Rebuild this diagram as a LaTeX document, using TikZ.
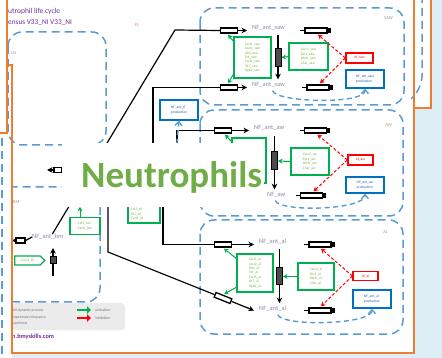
\documentclass[tikz,border=0pt]{standalone}
\usepackage{fontspec}
\setmainfont{Carlito}
\usetikzlibrary{arrows.meta,calc,shapes.symbols}
\definecolor{pageorange}{HTML}{ED7D31}
\definecolor{skyback}{HTML}{DDEEF6}
\definecolor{zoneblue}{HTML}{5B9BD5}
\definecolor{actgreen}{HTML}{00B050}
\definecolor{gtext}{HTML}{7CAF45}
\definecolor{inhred}{HTML}{FF0000}
\definecolor{infoblue}{HTML}{0070C0}
\definecolor{titlepurple}{HTML}{7030A0}
\definecolor{bigGreen}{HTML}{70AD47}
\definecolor{nfgray}{HTML}{8E89AE}
\definecolor{taggray}{HTML}{A09890}
\definecolor{florange}{HTML}{E08050}
\definecolor{legendgray}{HTML}{EBEBEB}
\begin{document}
\begin{tikzpicture}[x=1pt,y=-1pt,
  zone/.style={draw=zoneblue,line width=1.5pt,dash pattern=on 8pt off 5pt,rounded corners=14pt},
  edgeline/.style={draw=pageorange,line width=1.6pt},
  wire/.style={draw=black,line width=1.2pt},
  flow/.style={wire,-{Stealth[length=5.5pt,width=5.5pt]}},
  tport/.style={draw=black,fill=white,line width=1.3pt,minimum width=17pt,minimum height=5pt,inner sep=0pt},
  vport/.style={draw=black,fill=black!70,line width=1pt,minimum width=6pt,minimum height=18pt,inner sep=0pt},
  nf/.style={anchor=west,inner sep=0pt,text=nfgray,font=\fontsize{6.5}{7}\selectfont},
  boxtext/.style={font=\fontsize{3.6}{4.4}\selectfont,align=left,inner sep=1.5pt},
  gbox/.style={boxtext,draw=actgreen,line width=1.3pt,fill=white,text=gtext},
  rbox/.style={boxtext,draw=inhred,line width=1.3pt,fill=white,text=inhred},
  bbox/.style={boxtext,draw=infoblue,line width=1.3pt,fill=white,text=infoblue!70!titlepurple},
  act/.style={draw=actgreen,line width=1pt,-{Stealth[length=4.5pt,width=5pt]}},
  inh/.style={draw=inhred,line width=1pt,dash pattern=on 3pt off 2pt,-{Stealth[length=4.5pt,width=5pt]}},
  link/.style={draw=zoneblue,line width=1.4pt,dash pattern=on 5pt off 3.5pt,-{Straight Barb[length=4pt,width=7pt]}},
  zonetag/.style={font=\fontsize{4.5}{5}\selectfont,text=taggray,inner sep=0pt},
  legtext/.style={anchor=west,inner sep=0pt,text=black!55,font=\fontsize{3.8}{4.4}\selectfont},
]
\useasboundingbox (0,0) rectangle (442,358);

% sheets
\fill[skyback] (0,0) rectangle (442,358);
\fill[white] (0,0) -- (431,0) -- (431,108) -- (414,108) -- (414,353) -- (12,353) -- (12,358) -- (0,358) -- cycle;
\draw[zone] (422,-5) -- (422,90) -- (412,98);
\draw[zone] (2,138) -- (2,362);

% title
\node[anchor=west,inner sep=0pt,text=titlepurple,font=\fontsize{7.5}{8}\selectfont] (ttl1) at (8,12) {utrophil life cycle};
\node[anchor=west,inner sep=0pt,text=titlepurple,font=\fontsize{7.3}{8}\selectfont] (ttl2) at (8,23) {ensus V33\_NI V33\_NI};

% tissue zones
\draw[zone] (8,32) rectangle (106,145);
\begin{scope}
  \clip (12,0) rectangle (442,358);
  \draw[zone] (-10,187) rectangle (100,302);
\end{scope}
\draw[zone] (200,8) rectangle (404,105);
\draw[zone] (200,110) rectangle (403,216);
\draw[zone] (200,220) rectangle (403,334);

\node[zonetag,text=florange] (tagfl) at (137,25) {FL};
\node[zonetag,anchor=west] (tagln) at (11,53) {LN};
\node[zonetag,anchor=west] (tagbm) at (13,202) {BM};
\node[zonetag,anchor=east] (tagsaw) at (393,18) {SAW};
\node[zonetag,anchor=east] (tagaw) at (392,125) {AW};
\node[zonetag,anchor=east] (tagal) at (388,232) {AL};

% ---------- SAW ----------
\node[tport] (ta1) at (229,30.5) {};
\node[tport] (tb1) at (229,87.5) {};
\node[nf] (nf1a) at (252,28) {NF\_ant\_saw};
\node[nf] (nf1b) at (252,85) {NF\_ant\_saw};
\node[gbox,minimum width=37pt,minimum height=41pt] (g1a) at (252.5,57.5) {Cxcl1\_saw\\Cxcl2\_saw\\Il1b\_saw\\Tnf\_saw\\Cxcl5\_saw\\Il17\_saw\\Itgb2\_saw};
\node[vport] (vp1) at (278,57.5) {};
\node[gbox,minimum width=39pt,minimum height=27pt] (g1b) at (308.5,56.5) {Cxcr2\_saw\\Fpr1\_saw\\Ltb4r\_saw\\C5ar\_saw};
\node[tport,minimum width=22pt] (tr1) at (316,30.5) {};
\node[tport,minimum width=22pt] (tr1b) at (318,87.5) {};
\node[rbox,minimum width=27pt,minimum height=10pt] (r1) at (359.5,58) {nf\_saw};
\node[bbox,minimum width=38pt,minimum height=18pt] (b1) at (365,79) {NF\_ant\_saw\\production};

% ---------- AW ----------
\node[tport] (ta2) at (223,130.5) {};
\node[nf] (nf2a) at (254,128) {NF\_ant\_aw};
\node[nf] (nf2b) at (267,195) {NF\_aw};
\node[gbox,minimum width=34pt,minimum height=45pt] (g2a) at (249,160.5) {};
\node[vport] (vp2) at (274.5,161) {};
\node[gbox,minimum width=38pt,minimum height=27pt] (g2b) at (310,161.5) {Cxcr2\_aw\\Fpr1\_aw\\Ltb4r\_aw\\C5ar\_aw};
\node[tport,minimum width=22pt] (tr2) at (315.5,130.5) {};
\node[tport,minimum width=22pt] (tr2b) at (311.5,195.5) {};
\node[rbox,minimum width=25pt,minimum height=10pt] (r2) at (360.5,160) {nf\_aw};
\node[bbox,minimum width=38pt,minimum height=16pt] (b2) at (365,185) {NF\_ant\_aw\\production};

% ---------- AL ----------
\node[tport] (ta3) at (223,244.5) {};
\node[tport,rotate=-21.8] (tb3) at (223,298) {};
\node[nf] (nf3a) at (259,242) {NF\_ant\_al};
\node[nf] (nf3b) at (259,309) {NF\_ant\_al};
\node[gbox,minimum width=36pt,minimum height=38pt] (g3a) at (255,273) {Cxcl1\_al\\Cxcl2\_al\\Il1b\_al\\Tnf\_al\\Cxcl5\_al\\Il17\_al\\Itgb2\_al};
\node[vport,minimum height=17pt] (vp3) at (279.5,276.5) {};
\node[gbox,minimum width=36pt,minimum height=27pt] (g3b) at (316,276.5) {Cxcr2\_al\\Fpr1\_al\\Ltb4r\_al\\C5ar\_al};
\node[tport,minimum width=22pt] (tr3) at (320,244.5) {};
\node[tport,minimum width=22pt] (tr3b) at (320,310.5) {};
\node[rbox,minimum width=25pt,minimum height=9pt] (r3) at (365.5,276) {nf\_al};
\node[bbox,minimum width=38pt,minimum height=18pt] (b3) at (372,299) {NF\_ant\_al\\production};

% ---------- FL / BM / blood ----------
\node[bbox,minimum width=38pt,minimum height=20pt] (bF) at (179,110) {NF\_ant\_fl\\production};
\node[gbox,minimum width=32pt,minimum height=33pt] (gL1) at (144,206.5) {};
\node[boxtext,anchor=north west,text=gtext,inner sep=0pt] (gL1t) at (131,208) {Csf3\_bl\\Il17\_bl\\Cxcl1\_bl};
\node[gbox,minimum width=30pt,minimum height=17pt] (gL2) at (85,226) {Csf3\_bm\\Cxcl2\_bm};
\node[nf] (nfbm) at (32,237) {NF\_ant\_bm};
\node[tport,minimum width=9pt] (tbm) at (20.5,240.5) {};
\node[vport,minimum width=6pt,minimum height=7pt] (vpb) at (53,260.5) {};
\node[boxtext,shape=signal,signal to=east,draw=actgreen,line width=1.3pt,fill=white,text=gtext,minimum width=30pt,minimum height=9pt,inner sep=0.5pt] (gL3) at (27.5,260.5) {Cxcr4\_bl};
\node[tport,minimum width=8pt] (lp) at (58,170) {};

% migration routes
\coordinate (h1) at (175,30);
\coordinate (s2) at (153,165);
\coordinate (s3) at (177,165);
\coordinate (s4) at (163,185);
\coordinate (s5) at (108,185);
\coordinate (k5) at (108,252);
\coordinate (s6) at (80,170);
\coordinate (lpend) at (47,170);
\coordinate (bmend) at (12,240.5);
\coordinate (vpbtail) at (53,276);
\coordinate (vpbtip) at (53,248);
\coordinate (bFsrc) at (176,152);

\draw[wire] ($(nfbm.north east)+(-11,0)$) -- (h1) -- (ta1.west);
\draw[wire] (s2) |- (tb1.west);
\draw[wire] (s3) |- (ta2.west);
\draw[wire] (s4) |- (ta3.west);
\draw[wire] (s5) -- (k5) -- (tb3);
\draw[wire] (s6) -- (lp.east);
\draw[flow] (lp.west) -- (lpend);
\draw[wire] (nfbm.west) -- (tbm.east);
\draw[flow] (tbm.west) -- (bmend);
\draw[wire] (vpb.south) -- (vpbtail);
\draw[flow] (vpb.north) -- (vpbtip);
\draw[link] (bFsrc) -- (bF.south);
\draw[act] ($(gL2.north)+(-5,0)$) -- ($(gL2.north)+(-5,-10)$);

\draw[flow] (ta1.east) -- ($(ta1.east -| nf1a.west)+(-5,0)$);
\draw[flow] (tb1.east) -- ($(tb1.east -| nf1b.west)+(-5,0)$);
\draw[flow] (ta2.east) -- ($(ta2.east -| nf2a.west)+(-5,0)$);
\draw[flow] (ta3.east) -- ($(ta3.east -| nf3a.west)+(-5,0)$);
\draw[flow] (tb3) -- ($(nf3b.west)+(-5,1.5)$);

% transit through the airway compartments
\draw[wire,shorten >=4pt] (vp1.north) -- (vp1.north |- nf1a.south);
\draw[flow,shorten >=3pt] (vp1.south) -- (vp1.south |- nf1b.north);
\draw[wire,shorten >=5pt] (vp2.north) -- (vp2.north |- nf2a.south);
\draw[flow,shorten >=3pt] (vp2.south) -- (vp2.south |- nf2b.north);
\draw[wire,shorten >=4pt] (vp3.north) -- (vp3.north |- nf3a.south);
\draw[flow,shorten >=3pt] (vp3.south) -- (vp3.south |- nf3b.north);

% clearance transporters
\foreach \t in {tr1,tr1b,tr2,tr2b,tr3,tr3b}{
  \draw[wire] ($(\t.west)+(-4,0)$) -- (\t.west);
  \fill ($(\t.east)+(0,-2.5)$) rectangle ($(\t.east)+(3,2.5)$);
}

% activation
\draw[act] ($(g1a.north west)+(1,6)$) -- ($(ta1.south)+(-1,1)$);
\draw[act] ($(g1a.south west)+(1,-6)$) -- ($(tb1.north)+(-1,-1)$);
\draw[act] (g1b.west) -- (vp1.east);
\draw[act] ($(g2a.north west)+(1,5)$) -- ($(ta2.south)+(2,1)$);
\draw[act] (g2b.west) -- (vp2.east);
\draw[act] ($(g3a.north west)+(1,6)$) -- ($(ta3.south)+(1,1)$);
\draw[act] ($(g3a.south west)+(1,-6)$) -- ($(tb3.north)+(0,-1)$);
\draw[act] (g3b.west) -- (vp3.east);

% inhibition
\draw[inh] (r1.west) -- ($(tr1.south)+(2,1)$);
\draw[inh] (r1.west) -- ($(tr1b.north)+(2,-1)$);
\draw[inh] (r2.west) -- ($(tr2.south)+(2,1)$);
\draw[inh] (r2.west) -- ($(tr2b.north)+(2,-1)$);
\draw[inh] (r3.west) -- ($(tr3.south)+(1,1)$);
\draw[inh] (r3.west) -- ($(tr3b.north)+(1,-1)$);

% antigen signal links
\draw[link] ($(nf1b.south)+(4,3)$) .. controls +(4,12) and +(0,16) .. (b1.south);
\draw[link] ($(nf2b.south)+(-1,3)$) .. controls +(6,12) and +(0,16) .. (b2.south);
\draw[link] ($(nf3b.south)+(5,3)$) .. controls +(6,12) and +(0,16) .. (b3.south);

% legend
\node[fill=legendgray,rounded corners=4pt,minimum width=113pt,minimum height=27pt,inner sep=0pt,anchor=north west] (leg) at (12,303) {};
\node[legtext] (lg1) at (13,310) {hil dynamic process};
\node[legtext] (lg2) at (13,317) {expression/clearance};
\node[legtext] (lg3) at (13,323) {synthesis};
\coordinate (lga1) at (77,310);
\coordinate (lga2) at (91,310);
\coordinate (lgb1) at (77,318);
\coordinate (lgb2) at (91,318);
\draw[actgreen,line width=2.2pt,-{Triangle[length=4pt,width=7.5pt]}] (lga1) -- (lga2);
\draw[inhred,line width=2.2pt,-{Triangle[length=4pt,width=7.5pt]}] (lgb1) -- (lgb2);
\node[legtext] (lgt1) at (95,310) {activation};
\node[legtext] (lgt2) at (95,318) {inhibition};
\node[anchor=west,inner sep=0pt,text=titlepurple,font=\fontsize{6.3}{7}\selectfont\bfseries] (url) at (12,337) {n.bmyskills.com};

% sheet borders
\draw[edgeline] (7,-2) -- (7,133) -- (-2,133);
\draw[edgeline] (7,65) -- (12,65) -- (12,353) -- (414,353) -- (414,-2);
\draw[edgeline] (414,108) -- (431,108) -- (431,-2);

% caption
\node[fill=white,minimum width=202pt,minimum height=64pt,inner sep=0pt] (capbox) at (163,175) {};
\node[anchor=base west,inner sep=0pt,text=bigGreen,font=\fontsize{37}{40}\selectfont\bfseries] (cap) at (81,188) {Neutrophils};
\end{tikzpicture}
\end{document}
